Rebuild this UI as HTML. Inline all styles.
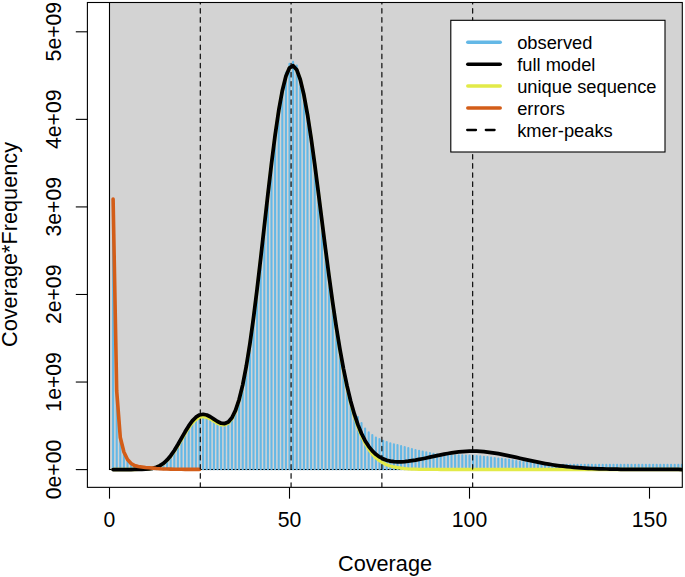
<!DOCTYPE html>
<html><head><meta charset="utf-8"><style>
html,body{margin:0;padding:0;background:#fff;}
svg{display:block;}
text{font-family:"Liberation Sans", sans-serif;fill:#000;}
</style></head><body>
<svg width="685" height="577" viewBox="0 0 685 577">
<defs><clipPath id="pc"><rect x="87.4" y="2.5" width="594.9" height="484.85"/></clipPath></defs>
<g clip-path="url(#pc)">
<rect x="109.5" y="-10" width="700" height="479.5" fill="#D3D3D3" stroke="#000" stroke-width="1.1"/>
<path d="M113.10 469.25V200.05M116.70 469.25V392.05M120.30 469.25V438.55M123.90 469.25V453.05M127.50 469.25V460.55M131.10 469.25V464.55M134.70 469.25V466.64M138.30 469.25V467.51M141.90 469.25V467.94M145.50 469.25V468.28M149.10 469.25V468.16M152.70 469.25V467.96M156.30 469.25V467.34M159.90 469.25V466.02M163.50 469.25V463.83M167.10 469.25V460.52M170.70 469.25V456.33M174.30 469.25V451.23M177.90 469.25V445.33M181.50 469.25V439.02M185.10 469.25V432.68M188.70 469.25V426.81M192.30 469.25V421.84M195.90 469.25V418.14M199.50 469.25V415.94M203.10 469.25V415.33M206.70 469.25V416.03M210.30 469.25V417.80M213.90 469.25V420.16M217.50 469.25V422.52M221.10 469.25V424.24M224.70 469.25V424.63M228.30 469.25V423.03M231.90 469.25V418.83M235.50 469.25V411.49M239.10 469.25V400.60M242.70 469.25V385.89M246.30 469.25V367.25M249.90 469.25V344.82M253.50 469.25V318.93M257.10 469.25V290.14M260.70 469.25V259.26M264.30 469.25V227.27M267.90 469.25V195.30M271.50 469.25V164.58M275.10 469.25V136.34M278.70 469.25V111.75M282.30 469.25V89.19M285.90 469.25V72.54M289.50 469.25V63.81M293.10 469.25V61.88M296.70 469.25V65.46M300.30 469.25V77.99M303.90 469.25V95.85M307.50 469.25V115.63M311.10 469.25V139.07M314.70 469.25V165.18M318.30 469.25V192.97M321.90 469.25V221.52M325.50 469.25V249.95M329.10 469.25V277.55M332.70 469.25V303.71M336.30 469.25V328.00M339.90 469.25V350.11M343.50 469.25V369.87M347.10 469.25V387.23M350.70 469.25V401.36M354.30 469.25V413.26M357.90 469.25V417.05M361.50 469.25V423.05M365.10 469.25V428.55M368.70 469.25V432.25M372.30 469.25V435.05M375.90 469.25V437.45M379.50 469.25V439.05M383.10 469.25V440.85M386.70 469.25V442.05M390.30 469.25V443.25M393.90 469.25V444.25M397.50 469.25V445.05M401.10 469.25V446.05M404.70 469.25V447.05M408.30 469.25V448.05M411.90 469.25V449.05M415.50 469.25V449.95M419.10 469.25V450.85M422.70 469.25V451.60M426.30 469.25V452.35M429.90 469.25V453.05M433.50 469.25V453.75M437.10 469.25V454.35M440.70 469.25V454.95M444.30 469.25V455.05M447.90 469.25V455.15M451.50 469.25V455.25M455.10 469.25V455.25M458.70 469.25V455.25M462.30 469.25V455.25M465.90 469.25V455.45M469.50 469.25V455.65M473.10 469.25V455.80M476.70 469.25V455.95M480.30 469.25V456.35M483.90 469.25V456.75M487.50 469.25V457.10M491.10 469.25V457.45M494.70 469.25V457.95M498.30 469.25V458.45M501.90 469.25V458.90M505.50 469.25V459.35M509.10 469.25V459.45M512.70 469.25V460.30M516.30 469.25V461.15M519.90 469.25V461.63M523.50 469.25V462.11M527.10 469.25V462.58M530.70 469.25V463.02M534.30 469.25V463.45M537.90 469.25V463.72M541.50 469.25V463.99M545.10 469.25V464.25M548.70 469.25V464.50M552.30 469.25V464.75M555.90 469.25V464.80M559.50 469.25V464.85M563.10 469.25V464.85M566.70 469.25V464.85M570.30 469.25V464.85M573.90 469.25V464.85M577.50 469.25V464.85M581.10 469.25V464.85M584.70 469.25V464.85M588.30 469.25V464.85M591.90 469.25V464.85M595.50 469.25V464.85M599.10 469.25V464.85M602.70 469.25V464.85M606.30 469.25V464.85M609.90 469.25V464.85M613.50 469.25V464.85M617.10 469.25V464.85M620.70 469.25V464.85M624.30 469.25V464.85M627.90 469.25V464.85M631.50 469.25V464.85M635.10 469.25V464.85M638.70 469.25V464.85M642.30 469.25V464.85M645.90 469.25V464.85M649.50 469.25V464.85M653.10 469.25V464.85M656.70 469.25V464.85M660.30 469.25V464.85M663.90 469.25V464.85M667.50 469.25V464.85M671.10 469.25V464.85M674.70 469.25V464.85M678.30 469.25V464.85M681.90 469.25V464.85M685.50 469.25V464.85M689.10 469.25V464.85M692.70 469.25V464.85M696.30 469.25V464.85M699.90 469.25V464.85M703.50 469.25V464.85M707.10 469.25V464.85M710.70 469.25V464.85M714.30 469.25V464.85" stroke="#64B8E6" stroke-width="2.1" stroke-linecap="round" fill="none"/>
<polyline points="113.10,469.50 116.70,469.50 120.30,469.50 123.90,469.50 127.50,469.50 131.10,469.50 134.70,469.49 138.30,469.46 141.90,469.39 145.50,469.24 149.10,468.94 152.70,468.36 156.30,467.39 159.90,465.84 163.50,463.55 167.10,460.38 170.70,456.29 174.30,451.31 177.90,445.63 181.50,439.54 185.10,433.45 188.70,427.81 192.30,423.03 195.90,419.47 199.50,417.33 203.10,416.66 206.70,417.30 210.30,418.95 213.90,421.13 217.50,423.29 221.10,424.77 224.70,424.93 228.30,423.11 231.90,418.70 235.50,411.17 239.10,400.12 242.70,385.27 246.30,366.53 249.90,344.01 253.50,318.05 257.10,289.22 260.70,258.30 264.30,226.28 267.90,194.30 271.50,163.58 275.10,135.33 278.70,110.74 282.30,90.81 285.90,76.35 289.50,67.91 293.10,65.73 296.70,69.78 300.30,79.73 303.90,95.01 307.50,114.85 311.10,138.35 314.70,164.53 318.30,192.41 321.90,221.05 325.50,249.59 329.10,277.31 332.70,303.60 336.30,328.03 339.90,350.29 343.50,370.21 347.10,387.74 350.70,402.93 354.30,415.90 357.90,426.80 361.50,435.84 365.10,443.25 368.70,449.23 372.30,454.00 375.90,457.77 379.50,460.71 383.10,462.97 386.70,464.70 390.30,466.00 393.90,466.97 397.50,467.69 401.10,468.22 404.70,468.60 408.30,468.87 411.90,469.06 415.50,469.20 419.10,469.30 422.70,469.36 426.30,469.41 429.90,469.44 433.50,469.46 437.10,469.47 440.70,469.48 444.30,469.49 447.90,469.49 451.50,469.50 455.10,469.50 458.70,469.50 462.30,469.50 465.90,469.50 469.50,469.50 473.10,469.50 476.70,469.50 480.30,469.50 483.90,469.50 487.50,469.50 491.10,469.50 494.70,469.50 498.30,469.50 501.90,469.50 505.50,469.50 509.10,469.50 512.70,469.50 516.30,469.50 519.90,469.50 523.50,469.50 527.10,469.50 530.70,469.50 534.30,469.50 537.90,469.50 541.50,469.50 545.10,469.50 548.70,469.50 552.30,469.50 555.90,469.50 559.50,469.50 563.10,469.50 566.70,469.50 570.30,469.50 573.90,469.50 577.50,469.50 581.10,469.50 584.70,469.50 588.30,469.50 591.90,469.50 595.50,469.50 599.10,469.50 602.70,469.50 606.30,469.50 609.90,469.50 613.50,469.50 617.10,469.50 620.70,469.50 624.30,469.50 627.90,469.50 631.50,469.50 635.10,469.50 638.70,469.50 642.30,469.50 645.90,469.50 649.50,469.50 653.10,469.50 656.70,469.50 660.30,469.50 663.90,469.50 667.50,469.50 671.10,469.50 674.70,469.50 678.30,469.50 681.90,469.50 685.50,469.50 689.10,469.50 692.70,469.50 696.30,469.50 699.90,469.50 703.50,469.50 707.10,469.50 710.70,469.50 714.30,469.50" fill="none" stroke="#E2EA48" stroke-width="3.3" stroke-linejoin="round" stroke-linecap="round"/>
<polyline points="113.10,469.50 116.70,469.50 120.30,469.50 123.90,469.50 127.50,469.50 131.10,469.50 134.70,469.49 138.30,469.46 141.90,469.39 145.50,469.23 149.10,468.91 152.70,468.31 156.30,467.29 159.90,465.67 163.50,463.28 167.10,459.97 170.70,455.68 174.30,450.48 177.90,444.53 181.50,438.17 185.10,431.80 188.70,425.90 192.30,420.91 195.90,417.19 199.50,414.97 203.10,414.28 206.70,414.98 210.30,416.75 213.90,419.11 217.50,421.47 221.10,423.19 224.70,423.58 228.30,421.98 231.90,417.78 235.50,410.44 239.10,399.55 242.70,384.84 246.30,366.20 249.90,343.77 253.50,317.88 257.10,289.09 260.70,258.21 264.30,226.22 267.90,194.25 271.50,163.53 275.10,135.29 278.70,110.70 282.30,90.76 285.90,76.29 289.50,67.83 293.10,65.63 296.70,69.65 300.30,79.56 303.90,94.80 307.50,114.58 311.10,138.02 314.70,164.13 318.30,191.92 321.90,220.47 325.50,248.90 329.10,276.50 332.70,302.66 336.30,326.95 339.90,349.06 343.50,368.82 347.10,386.18 350.70,401.19 354.30,413.95 357.90,424.65 361.50,433.47 365.10,440.64 368.70,446.37 372.30,450.87 375.90,454.34 379.50,456.96 383.10,458.87 386.70,460.21 390.30,461.08 393.90,461.59 397.50,461.80 401.10,461.77 404.70,461.55 408.30,461.18 411.90,460.68 415.50,460.10 419.10,459.43 422.70,458.72 426.30,457.96 429.90,457.19 433.50,456.41 437.10,455.63 440.70,454.88 444.30,454.17 447.90,453.51 451.50,452.91 455.10,452.39 458.70,451.95 462.30,451.60 465.90,451.35 469.50,451.21 473.10,451.17 476.70,451.24 480.30,451.42 483.90,451.69 487.50,452.07 491.10,452.53 494.70,453.07 498.30,453.68 501.90,454.35 505.50,455.08 509.10,455.84 512.70,456.64 516.30,457.45 519.90,458.26 523.50,459.08 527.10,459.89 530.70,460.68 534.30,461.44 537.90,462.18 541.50,462.88 545.10,463.54 548.70,464.16 552.30,464.74 555.90,465.28 559.50,465.77 563.10,466.22 566.70,466.63 570.30,467.00 573.90,467.33 577.50,467.63 581.10,467.89 584.70,468.12 588.30,468.33 591.90,468.50 595.50,468.66 599.10,468.79 602.70,468.90 606.30,469.00 609.90,469.09 613.50,469.16 617.10,469.22 620.70,469.27 624.30,469.31 627.90,469.34 631.50,469.37 635.10,469.40 638.70,469.42 642.30,469.43 645.90,469.45 649.50,469.46 653.10,469.47 656.70,469.47 660.30,469.48 663.90,469.48 667.50,469.49 671.10,469.49 674.70,469.49 678.30,469.49 681.90,469.50 685.50,469.50 689.10,469.50 692.70,469.50 696.30,469.50 699.90,469.50 703.50,469.50 707.10,469.50 710.70,469.50 714.30,469.50" fill="none" stroke="#000" stroke-width="3.75" stroke-linejoin="round" stroke-linecap="round"/>
<polyline points="113.10,199.00 116.70,391.00 120.30,437.50 123.90,452.00 127.50,459.50 131.10,463.50 134.70,465.60 138.30,466.50 141.90,467.00 145.50,467.50 149.10,467.70 152.70,468.10 156.30,468.50 159.90,468.80 163.50,469.00 167.10,469.00 170.70,469.10 174.30,469.20 177.90,469.25 181.50,469.30 185.10,469.33 188.70,469.36 192.30,469.38 195.90,469.40 199.50,469.42" fill="none" stroke="#D35D18" stroke-width="3.6" stroke-linejoin="round" stroke-linecap="round"/>
<g stroke="#000" stroke-width="1.15" stroke-dasharray="4.56 4.56" stroke-linecap="round"><line x1="200.29" y1="487.35" x2="200.29" y2="2.5"/><line x1="291.08" y1="487.35" x2="291.08" y2="2.5"/><line x1="381.88" y1="487.35" x2="381.88" y2="2.5"/><line x1="472.67" y1="487.35" x2="472.67" y2="2.5"/></g>
</g>
<rect x="450.8" y="20.3" width="214.2" height="131.7" fill="#fff" stroke="#000" stroke-width="1.1"/>
<g font-size="18.3"><line x1="467.8" y1="42.20" x2="500.2" y2="42.20" stroke="#64B8E6" stroke-width="3.5" stroke-linecap="round"/><text x="517.2" y="49.00">observed</text><line x1="467.8" y1="64.15" x2="500.2" y2="64.15" stroke="#000" stroke-width="3.5" stroke-linecap="round"/><text x="517.2" y="70.95">full model</text><line x1="467.8" y1="86.10" x2="500.2" y2="86.10" stroke="#E2EA48" stroke-width="3.5" stroke-linecap="round"/><text x="517.2" y="92.90">unique sequence</text><line x1="467.8" y1="108.05" x2="500.2" y2="108.05" stroke="#D35D18" stroke-width="3.5" stroke-linecap="round"/><text x="517.2" y="114.85">errors</text><line x1="467.2" y1="130.00" x2="476" y2="130.00" stroke="#000" stroke-width="2.3" stroke-linecap="round"/><line x1="485.8" y1="130.00" x2="494.6" y2="130.00" stroke="#000" stroke-width="2.3" stroke-linecap="round"/><text x="517.2" y="136.80">kmer-peaks</text></g>
<rect x="87.4" y="2.5" width="594.90" height="484.85" fill="none" stroke="#000" stroke-width="1.1"/>
<g stroke="#000" stroke-width="1.1"><line x1="75.80000000000001" y1="469.60" x2="87.4" y2="469.60"/><line x1="75.80000000000001" y1="382.04" x2="87.4" y2="382.04"/><line x1="75.80000000000001" y1="294.48" x2="87.4" y2="294.48"/><line x1="75.80000000000001" y1="206.92" x2="87.4" y2="206.92"/><line x1="75.80000000000001" y1="119.36" x2="87.4" y2="119.36"/><line x1="75.80000000000001" y1="31.80" x2="87.4" y2="31.80"/><line x1="109.50" y1="487.35" x2="109.50" y2="498.65000000000003"/><line x1="289.50" y1="487.35" x2="289.50" y2="498.65000000000003"/><line x1="469.50" y1="487.35" x2="469.50" y2="498.65000000000003"/><line x1="649.50" y1="487.35" x2="649.50" y2="498.65000000000003"/></g>
<g font-size="21.2"><text transform="translate(60.6,469.45) rotate(-90)" text-anchor="middle">0e+00</text><text transform="translate(60.6,381.89) rotate(-90)" text-anchor="middle">1e+09</text><text transform="translate(60.6,294.33) rotate(-90)" text-anchor="middle">2e+09</text><text transform="translate(60.6,206.77) rotate(-90)" text-anchor="middle">3e+09</text><text transform="translate(60.6,119.21) rotate(-90)" text-anchor="middle">4e+09</text><text transform="translate(60.6,31.65) rotate(-90)" text-anchor="middle">5e+09</text><text x="109.50" y="526.8" text-anchor="middle">0</text><text x="289.50" y="526.8" text-anchor="middle">50</text><text x="469.50" y="526.8" text-anchor="middle">100</text><text x="649.50" y="526.8" text-anchor="middle">150</text>
<text x="385" y="571.2" text-anchor="middle" font-size="21.7">Coverage</text>
<text transform="translate(17.4,244.5) rotate(-90)" text-anchor="middle" font-size="21.7">Coverage*Frequency</text>
</g>
</svg>
</body></html>
